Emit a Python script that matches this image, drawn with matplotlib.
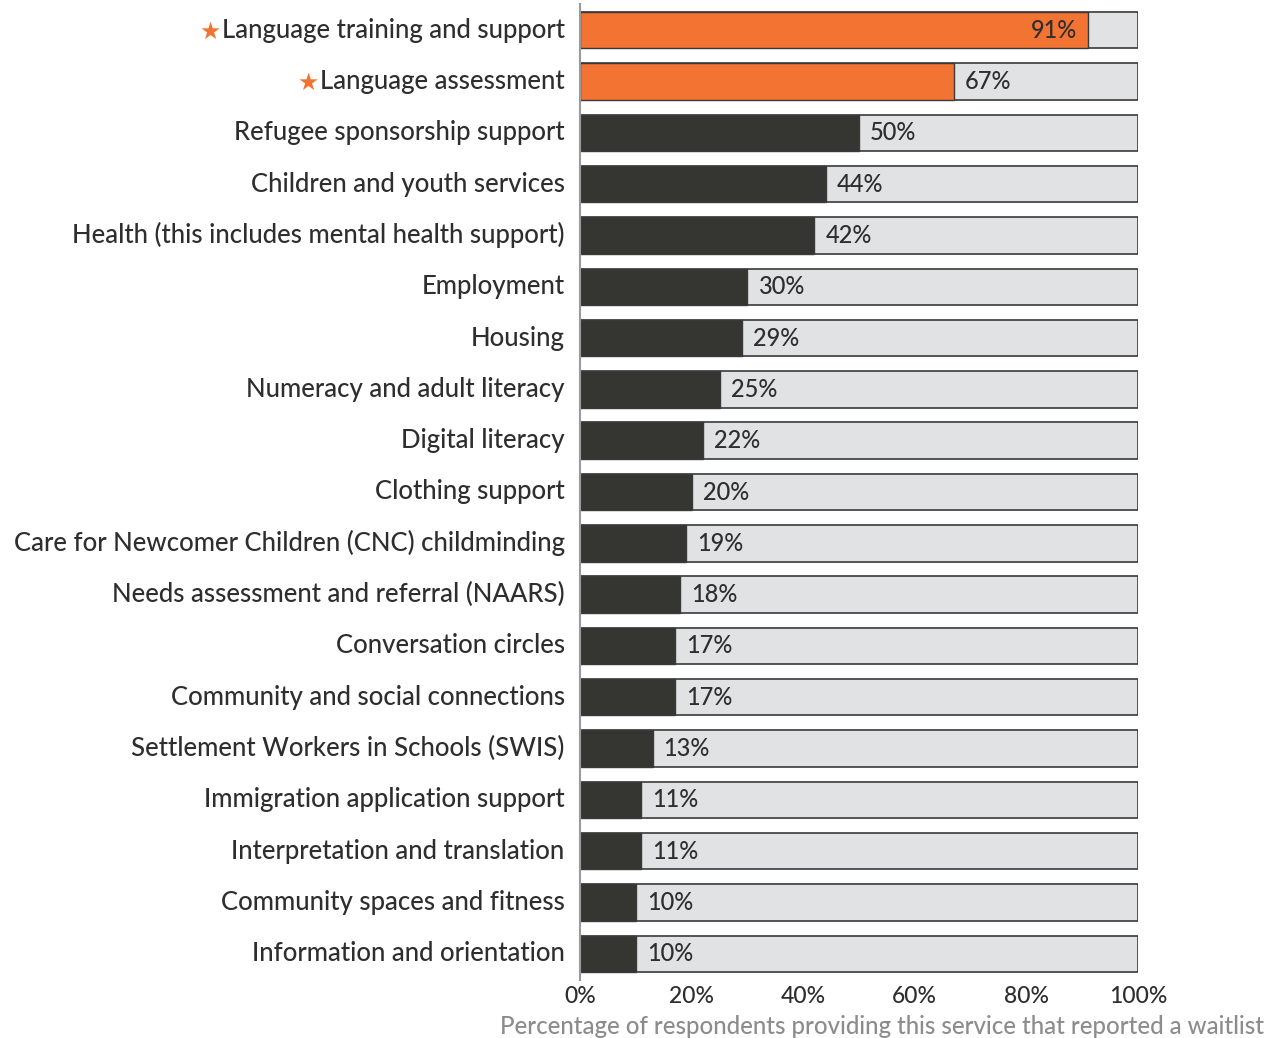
import matplotlib.pyplot as plt
from matplotlib.ticker import FuncFormatter

plt.rcParams['font.family'] = ['Lato', 'DejaVu Sans']

services = [
    "Language training and support",
    "Language assessment",
    "Refugee sponsorship support",
    "Children and youth services",
    "Health (this includes mental health support)",
    "Employment",
    "Housing",
    "Numeracy and adult literacy",
    "Digital literacy",
    "Clothing support",
    "Care for Newcomer Children (CNC) childminding",
    "Needs assessment and referral (NAARS)",
    "Conversation circles",
    "Community and social connections",
    "Settlement Workers in Schools (SWIS)",
    "Immigration application support",
    "Interpretation and translation",
    "Community spaces and fitness",
    "Information and orientation",
]
waitlist_pct = [91, 67, 50, 44, 42, 30, 29, 25, 22, 20, 19, 18, 17, 17, 13, 11, 11, 10, 10]
starred = [True, True] + [False] * 17
x_ticks = [0, 20, 40, 60, 80, 100]

orange = "#F37332"
dark = "#353531"
track = "#E1E2E4"
text_col = "#2E2E2E"

fig = plt.figure(figsize=(12.74, 10.38), dpi=100)
ax = fig.add_axes([580 / 1274, 1 - 980 / 1038, 558 / 1274, 976 / 1038])

ypos = list(range(len(services)))
h = 0.71
fills = [orange if s else dark for s in starred]

ax.barh(ypos, [100] * len(ypos), height=h, color=track, edgecolor="#3a3a3a", linewidth=1.2, zorder=1)
ax.barh(ypos, waitlist_pct, height=h, color=fills, edgecolor="#3a3a3a", linewidth=1.0, zorder=2)

for y, v in zip(ypos, waitlist_pct):
    if v > 85:
        ax.annotate(f"{v}%", (v, y), xytext=(-8, 0), textcoords="offset points",
                    ha="right", va="center", fontsize=17, fontweight="medium", color=text_col, zorder=3)
    else:
        ax.annotate(f"{v}%", (v, y), xytext=(8, 0), textcoords="offset points",
                    ha="left", va="center", fontsize=17, fontweight="medium", color=text_col, zorder=3)

# category labels, with a star for the highlighted services
for y, name, s in zip(ypos, services, starred):
    t = ax.annotate(name, (0, y), xytext=(-11, 0), textcoords="offset points",
                    ha="right", va="center", fontsize=18.5, fontweight="medium", color=text_col)
    if s:
        ax.annotate("★", xy=(0, 0.42), xycoords=t, xytext=(-1, 0), textcoords="offset points",
                    ha="right", va="center", fontsize=17, color=orange)

ax.set_xlim(0, 100)
ax.set_ylim(len(services) - 0.49, -0.51)
ax.set_xticks(x_ticks)
ax.xaxis.set_major_formatter(FuncFormatter(lambda v, p: f"{int(v)}%"))
ax.tick_params(axis="x", length=0, labelsize=16.5, labelcolor=text_col, pad=4)
for lab in ax.get_xticklabels():
    lab.set_fontweight("medium")
ax.set_yticks([])
for side in ["top", "right", "bottom"]:
    ax.spines[side].set_visible(False)
ax.spines["left"].set_color("#9a9a9a")
ax.spines["left"].set_linewidth(1.5)

fig.text(1264 / 1274, 1 - 1026 / 1038, "Percentage of respondents providing this service that reported a waitlist",
         ha="right", va="center", fontsize=17.3, fontweight="medium", color="#8C8C8C")

fig.savefig("out.png", dpi=100)
